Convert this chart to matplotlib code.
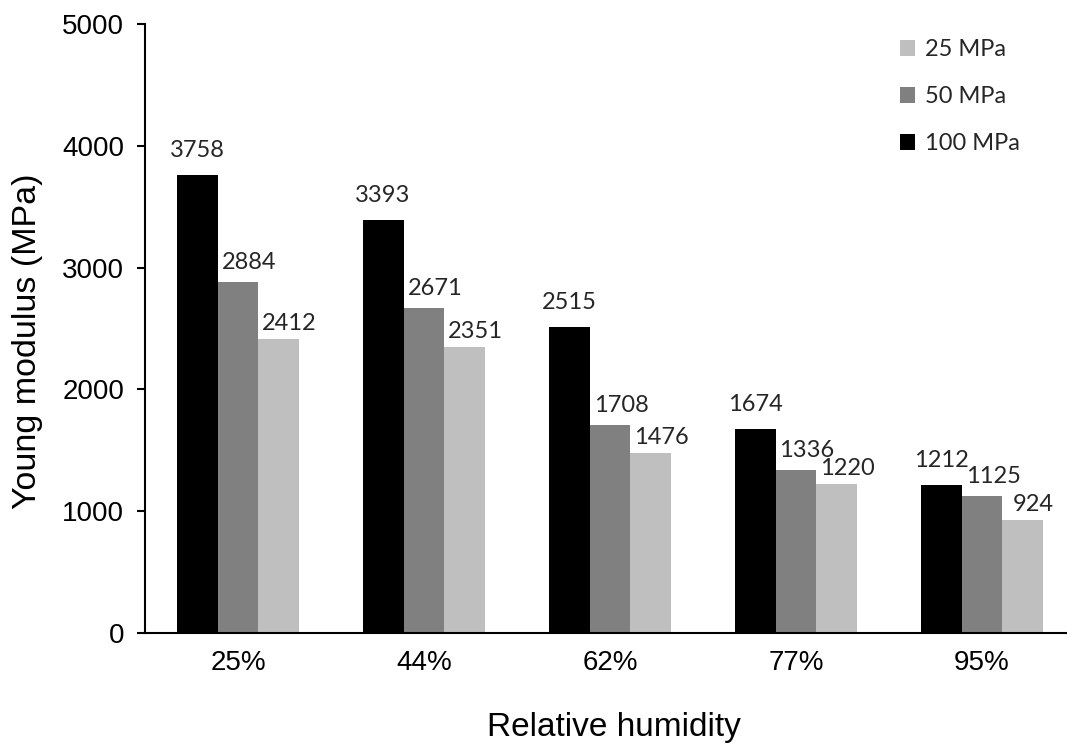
import numpy as np
import matplotlib
matplotlib.use("Agg")
import matplotlib.pyplot as plt

# datos
humidity = ["25%", "44%", "62%", "77%", "95%"]
mpa_100 = [3758, 3393, 2515, 1674, 1212]
mpa_50 = [2884, 2671, 1708, 1336, 1125]
mpa_25 = [2412, 2351, 1476, 1220, 924]

fig = plt.figure(figsize=(10.67, 7.44), dpi=100)
ax = fig.add_axes([145 / 1067, 1 - 633 / 744, 930 / 1067, 609 / 744])

x = np.arange(len(humidity))
w = 0.22
label_font = "Lato"

# (valores, nombre, color, desplazamiento de barra, desplazamiento de etiqueta en px)
series = [
    (mpa_100, "100 MPa", "#000000", -w, (0, 18)),
    (mpa_50, "50 MPa", "#808080", 0, (11, 13)),
    (mpa_25, "25 MPa", "#bfbfbf", w, (10, 9)),
]
handles = []
for vals, name, color, off, nudge in series:
    b = ax.bar(x + off, vals, w, color=color, label=name)
    handles.append(b)
    for xi, v in zip(x + off, vals):
        ax.annotate(str(v), (xi, v), xytext=nudge, textcoords="offset pixels",
                    ha="center", va="baseline", fontsize=17, family=label_font,
                    color="#262626")

ax.set_xlim(-0.5, 4.5)
ax.set_ylim(0, 5000)
ax.set_yticks(range(0, 5001, 1000))
ax.set_xticks(x)
ax.set_xticklabels(humidity)

for s in ["top", "right"]:
    ax.spines[s].set_visible(False)
ax.spines["left"].set_linewidth(1.5)
ax.spines["bottom"].set_linewidth(1.5)
ax.tick_params(axis="y", length=6, width=1.5, pad=9, labelsize=20)
ax.tick_params(axis="x", length=0, pad=12, labelsize=20)
for t in ax.get_xticklabels() + ax.get_yticklabels():
    t.set_family("Liberation Sans")

fig.text(614 / 1067, 1 - 736 / 744, "Relative humidity", ha="center", va="baseline",
         fontsize=24, family="Liberation Sans")
fig.text(28 / 1067, 1 - 341 / 744, "Young modulus (MPa)", ha="center", va="center",
         rotation=90, fontsize=24.5, family="Liberation Sans")

leg = fig.legend(handles[::-1], [h.get_label() for h in handles[::-1]],
                 loc="upper left", bbox_to_anchor=(900 / 1067, 1 - 39 / 744),
                 bbox_transform=fig.transFigure, frameon=False,
                 prop={"family": label_font, "size": 17}, borderpad=0, borderaxespad=0,
                 handlelength=0.65, handleheight=0.65, handletextpad=0.4,
                 labelspacing=1.1)
for t in leg.get_texts():
    t.set_color("#262626")

fig.savefig("out.png", dpi=100)
